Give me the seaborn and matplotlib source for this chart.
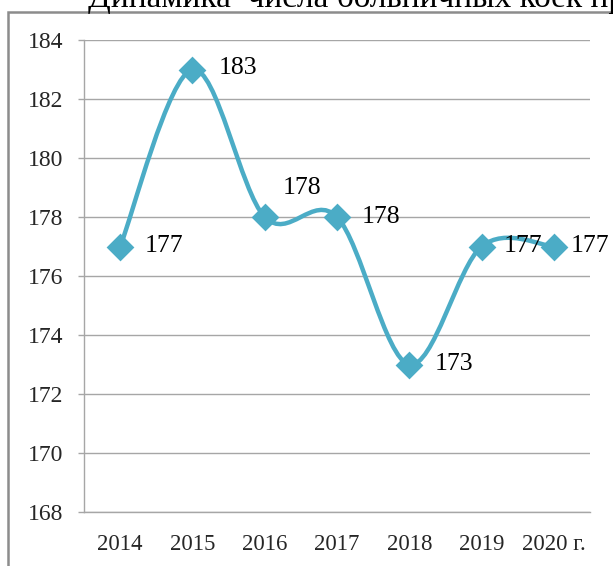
import matplotlib
matplotlib.use("Agg")
import matplotlib.pyplot as plt
import seaborn as sns
import numpy as np
import pandas as pd
from matplotlib.path import Path
from matplotlib.patches import PathPatch, Rectangle

years = ["2014", "2015", "2016", "2017", "2018", "2019", "2020 г."]
beds = [177, 183, 178, 178, 173, 177, 177]
yticks = [168, 170, 172, 174, 176, 178, 180, 182, 184]
title = "Динамика  числа больничных коек пре"

sns.set_theme(style="white")
plt.rcParams['font.family'] = ['Liberation Serif', 'DejaVu Serif']

color = "#4BACC6"
grid_c = "#a6a6a6"

W, H = 613, 566
fig = plt.figure(figsize=(W / 100, H / 100), dpi=100)
ax = fig.add_axes([84 / W, 1 - 512 / H, (590 - 84) / W, (512 - 40) / H])

df = pd.DataFrame({"year": years, "beds": beds, "x": np.arange(len(years))})

# smoothed line (Excel-style Bezier through the data points)
xs = df["x"].to_numpy(dtype=float)
ys = df["beds"].to_numpy(dtype=float)
pts = np.column_stack([xs, ys])
n = len(pts)
verts = [pts[0]]
codes = [Path.MOVETO]
for i in range(n - 1):
    p0 = pts[i - 1] if i > 0 else pts[i]
    p1 = pts[i]
    p2 = pts[i + 1]
    p3 = pts[i + 2] if i + 2 < n else pts[i + 1]
    c1 = p1 + (p2 - p0) / 6.0
    c2 = p2 - (p3 - p1) / 6.0
    verts += [c1, c2, p2]
    codes += [Path.CURVE4] * 3
ax.add_patch(PathPatch(Path(verts, codes), fill=False, edgecolor=color,
                       lw=3.2, capstyle="round", joinstyle="round", zorder=3))

sns.scatterplot(data=df, x="x", y="beds", marker="D", s=200, color=color,
                edgecolor=color, linewidth=0, ax=ax, zorder=4, legend=False)

# label offsets in points (dx, dy)
label_offsets = [(18, 0), (19, 1), (13, 21), (18, 0), (18, 0), (16, 0), (12, 0)]
for xi, yi, (dx, dy) in zip(xs, ys, label_offsets):
    ax.annotate(f"{int(yi)}", (xi, yi), xytext=(dx, dy), textcoords="offset points",
                ha="left", va="center", fontsize=18.5, color="black", zorder=5,
                annotation_clip=False)

ax.set_xlim(-0.5, len(years) - 0.5)
ax.set_ylim(yticks[0], yticks[-1])
ax.set_yticks(yticks)
ax.set_xticks(xs)
ax.set_xticklabels(years, fontsize=16.5)
ax.set_yticklabels([str(t) for t in yticks], fontsize=17)
ax.set_xlabel("")
ax.set_ylabel("")
ax.grid(axis="y", color=grid_c, lw=1.0)
ax.grid(axis="x", visible=False)
for s in ["top", "right"]:
    ax.spines[s].set_visible(False)
for s in ["left", "bottom"]:
    ax.spines[s].set_color(grid_c)
    ax.spines[s].set_linewidth(1.0)
ax.tick_params(axis="y", length=4, width=1, color=grid_c, pad=11, left=True)
ax.tick_params(axis="x", length=0, pad=16)
ax.set_axisbelow(True)

# outer chart border
fig.patches.append(Rectangle((8 / W, -0.1), 1.2, 1.1 - 12 / H, transform=fig.transFigure,
                             fill=False, edgecolor="#8c8c8c", lw=1.8, figure=fig))

fig.text(88 / W, 1 - 7 / H, title, ha="left", va="baseline", fontsize=24, color="black")

fig.savefig("out.png", dpi=100)
